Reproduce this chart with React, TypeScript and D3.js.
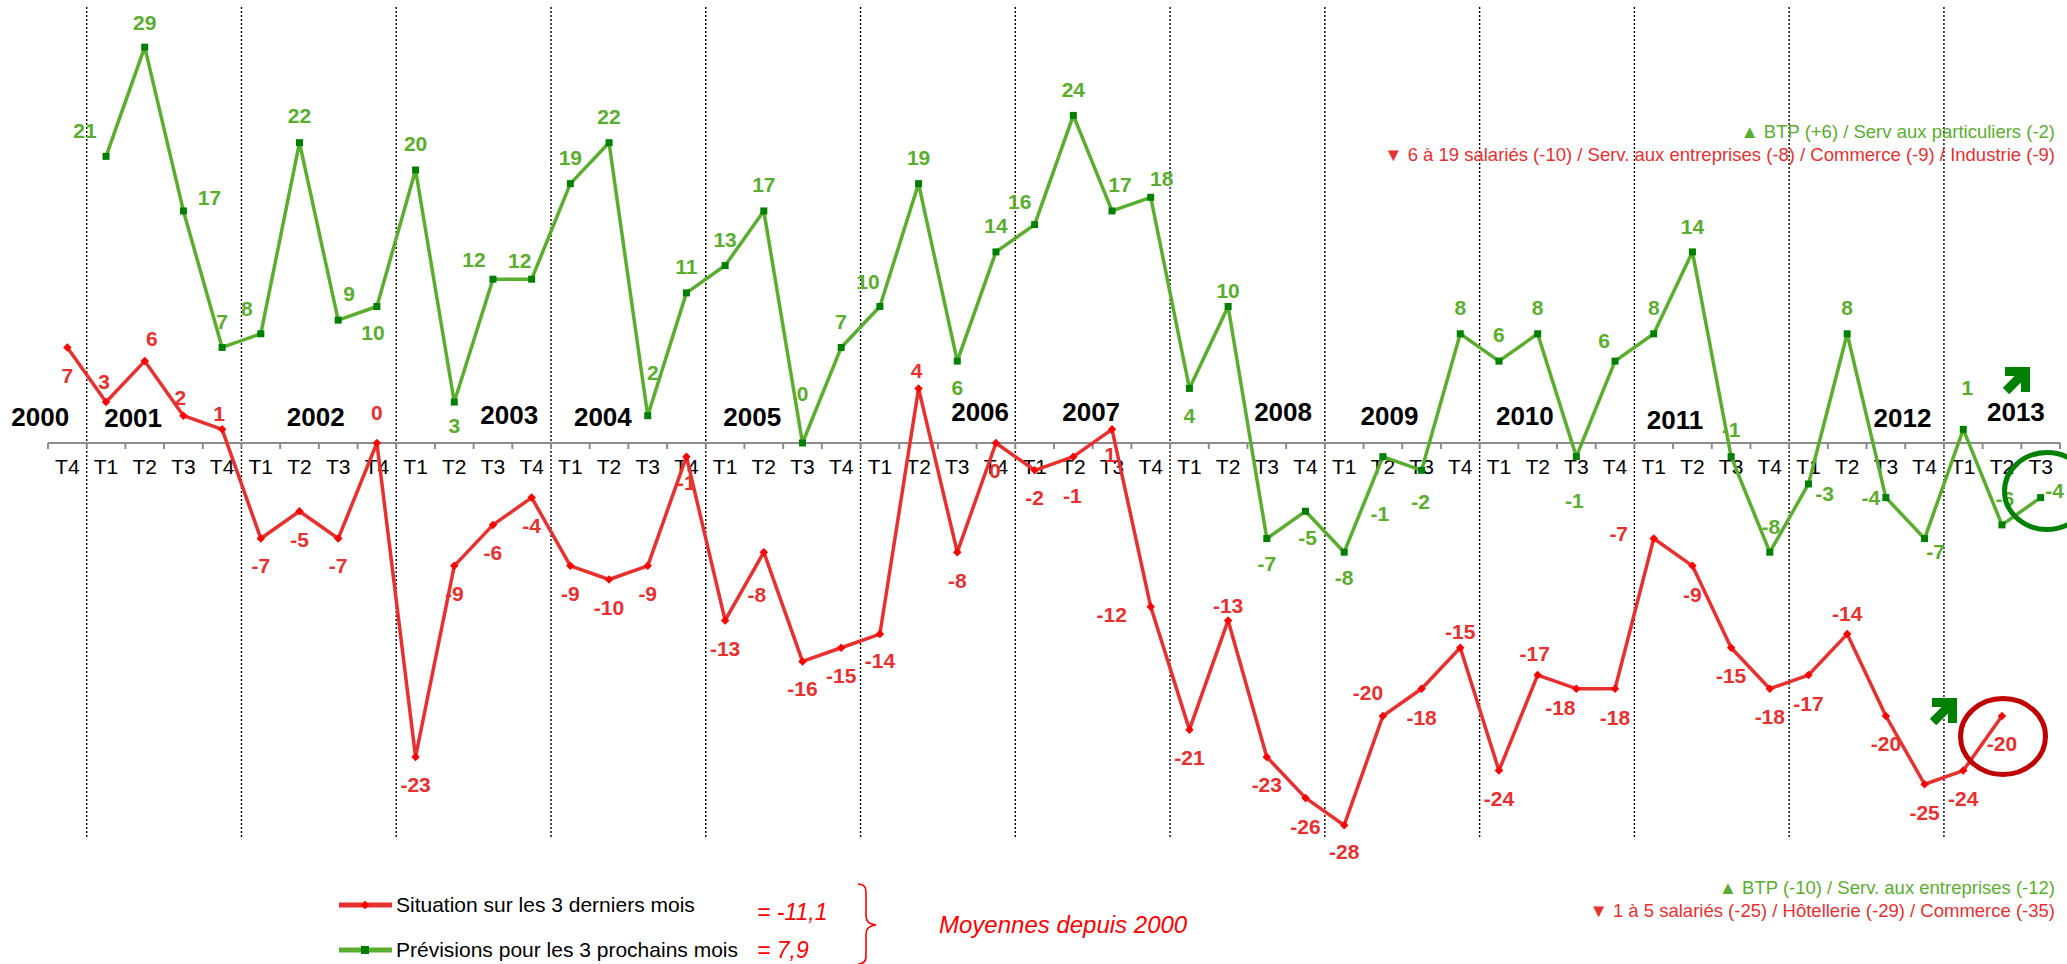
import React, { useEffect } from 'react';
import * as d3 from 'd3';

// ---------- DATA ----------
const categories = [
  '2000 T4',
  '2001 T1', '2001 T2', '2001 T3', '2001 T4',
  '2002 T1', '2002 T2', '2002 T3', '2002 T4',
  '2003 T1', '2003 T2', '2003 T3', '2003 T4',
  '2004 T1', '2004 T2', '2004 T3', '2004 T4',
  '2005 T1', '2005 T2', '2005 T3', '2005 T4',
  '2006 T1', '2006 T2', '2006 T3', '2006 T4',
  '2007 T1', '2007 T2', '2007 T3', '2007 T4',
  '2008 T1', '2008 T2', '2008 T3', '2008 T4',
  '2009 T1', '2009 T2', '2009 T3', '2009 T4',
  '2010 T1', '2010 T2', '2010 T3', '2010 T4',
  '2011 T1', '2011 T2', '2011 T3', '2011 T4',
  '2012 T1', '2012 T2', '2012 T3', '2012 T4',
  '2013 T1', '2013 T2', '2013 T3',
];
const quarterLabels = categories.map((c) => c.split(' ')[1]);

const situation: (number | null)[] = [
  7, 3, 6, 2, 1, -7, -5, -7, 0, -23, -9, -6, -4, -9, -10, -9, -1, -13, -8, -16, -15,
  -14, 4, -8, 0, -2, -1, 1, -12, -21, -13, -23, -26, -28, -20, -18, -15, -24, -17, -18,
  -18, -7, -9, -15, -18, -17, -14, -20, -25, -24, -20, null,
];
const previsions: (number | null)[] = [
  null, 21, 29, 17, 7, 8, 22, 9, 10, 20, 3, 12, 12, 19, 22, 2, 11, 13, 17, 0, 7,
  10, 19, 6, 14, 16, 24, 17, 18, 4, 10, -7, -5, -8, -1, -2, 8, 6, 8, -1, 6,
  8, 14, -1, -8, -3, 8, -4, -7, 1, -6, -4,
];

const yearLabels = ['2000', '2001', '2002', '2003', '2004', '2005', '2006', '2007', '2008', '2009', '2010', '2011', '2012', '2013'];

const seriesNames = ['Situation sur les 3 derniers mois', 'Prévisions pour les 3 prochains mois'];
const meanTexts = ['= -11,1', '= 7,9'];
const meanCaption = 'Moyennes depuis 2000';
const topNotes = ['▲ BTP (+6) / Serv aux particuliers (-2)', '▼ 6 à 19 salariés (-10) / Serv. aux entreprises (-8) / Commerce (-9) / Industrie (-9)'];
const bottomNotes = ['▲ BTP (-10) / Serv. aux entreprises (-12)', '▼ 1 à 5 salariés (-25) / Hôtellerie (-29) / Commerce (-35)'];

// ---------- LAYOUT (label placement, as placed in the original) ----------
const redLabelOffsets: [number, number][] = [
  [0, 28], [-2, -20], [7, -22], [-3, -18], [-3, -16], [0, 27], [0, 28], [0, 27], [0, -30],
  [0, 28], [0, 28], [0, 28], [0, 28], [0, 28], [0, 28], [0, 28], [0, 26], [0, 28], [-7, 42],
  [0, 27], [0, 28], [0, 27], [-2, -18], [0, 28], [-1, 28], [0, 27], [-1, 39], [-2, 25],
  [-39, 8], [0, 28], [0, -15], [0, 28], [0, 29], [0, 26], [-15, -23], [0, 29], [0, -16],
  [0, 28], [-3, -21], [-16, 19], [0, 29], [-35, -5], [0, 29], [0, 28], [0, 28], [0, 29],
  [0, -20], [0, 28], [0, 28], [0, 28], [0, 28], [0, 0],
];
const greenLabelOffsets: [number, number][] = [
  [0, 0], [-21, -26], [0, -25], [26, -13], [0, -26], [-14, -25], [0, -27], [11, -27], [-4, 26],
  [0, -26], [0, 24], [-19, -20], [-12, -19], [0, -26], [0, -26], [5, -43], [0, -26], [0, -26],
  [0, -26], [0, -49], [0, -26], [-12, -25], [0, -26], [0, 27], [0, -26], [-15, -23], [0, -26],
  [8, -26], [11, -19], [0, 27], [0, -16], [0, 25], [2, 26], [0, 25], [-3, 57], [-1, 31],
  [0, -26], [0, -26], [0, -26], [-2, 44], [-11, -20], [0, -26], [0, -25], [0, -27], [1, -26],
  [16, 10], [0, -26], [-15, 0], [11, 13], [4, -42], [3, -26], [14, -7],
];
// year labels: position in category units (0 = first category centre) and centre y
const yearSlots = [-0.7, 1.7, 6.42, 11.42, 13.84, 17.7, 23.59, 26.46, 31.42, 34.17, 37.67, 41.55, 47.43, 50.36];
const yearY = [417, 418, 417, 415, 417, 417, 412, 412, 412, 416, 416, 420, 418, 412];

const W = 2067;
const H = 964;
const FONT = '"Liberation Sans", Arial, Helvetica, sans-serif';
const RED_LINE = '#E8302F';
const RED_MARK = '#FF0000';
const RED_TXT = '#E8302F';
const GREEN_LINE = '#5AAE2E';
const GREEN_MARK = '#008000';
const GREEN_TXT = '#5AAE2E';

function Arrow({ x, y }: { x: number; y: number }) {
  // tip at (x, y), pointing up-right
  return (
    <g transform={`translate(${x},${y})`} fill="none" stroke={GREEN_MARK} strokeWidth={9} strokeLinejoin="miter">
      <path d="M-25,4.5 L-4.5,4.5 L-4.5,25" />
      <path d="M-4.5,4.5 L-24,24" />
    </g>
  );
}

export default function App() {
  useEffect(() => {
    document.body.style.margin = '0';
  }, []);

  const idx = categories.map((_, i) => i);
  const x = d3.scaleBand<number>().domain(idx).range([48, 2060]).padding(0);
  const bw = x.bandwidth();
  const cx = (i: number) => (x(i) as number) + bw / 2;
  const y = d3.scaleLinear().domain([-28, 29]).range([825.2, 47.15]);
  const y0 = y(0);

  const line = d3
    .line<number | null>()
    .defined((d) => d !== null)
    .x((_, i) => cx(i))
    .y((d) => y(d as number));

  const boundaries = d3.range(categories.length + 1).map((i) => 48 + i * bw);
  const yearBounds = idx.filter((i) => quarterLabels[i] === 'T1').map((i) => x(i) as number);

  return (
    <div style={{ position: 'absolute', left: 0, top: 0 }}>
      <svg width={W} height={H} style={{ display: 'block', fontFamily: FONT }}>
        <rect width={W} height={H} fill="#fff" />
        {/* year separators */}
        {yearBounds.map((bx, i) => (
          <line key={'d' + i} x1={bx} x2={bx} y1={7} y2={838} stroke="#000" strokeWidth={1.4} strokeDasharray="2,2" />
        ))}
        {/* axis */}
        <line x1={48} x2={2060} y1={y0} y2={y0} stroke="#8c8c8c" strokeWidth={2} />
        {boundaries.map((bx, i) => (
          <line key={'t' + i} x1={bx} x2={bx} y1={y0} y2={y0 + 6} stroke="#8c8c8c" strokeWidth={2} />
        ))}
        {quarterLabels.map((q, i) => (
          <text key={'q' + i} x={cx(i)} y={467} dy="0.35em" textAnchor="middle" fontSize={21} fill="#000">
            {q}
          </text>
        ))}
        {yearLabels.map((yl, i) => (
          <text key={'y' + i} x={cx(0) + yearSlots[i] * bw} y={yearY[i]} dy="0.35em" textAnchor="middle" fontSize={26} fontWeight="bold" fill="#000">
            {yl}
          </text>
        ))}

        {/* lines */}
        <path d={line(situation) || ''} fill="none" stroke={RED_LINE} strokeWidth={3.5} strokeLinejoin="round" />
        <path d={line(previsions) || ''} fill="none" stroke={GREEN_LINE} strokeWidth={3.5} strokeLinejoin="round" />

        {/* markers */}
        {situation.map((v, i) =>
          v === null ? null : (
            <rect key={'rm' + i} x={cx(i) - 3} y={y(v) - 3} width={6} height={6} fill={RED_MARK} transform={`rotate(45 ${cx(i)} ${y(v)})`} />
          )
        )}
        {previsions.map((v, i) =>
          v === null ? null : (
            <rect key={'gm' + i} x={cx(i) - 3.5} y={y(v) - 3.5} width={7} height={7} fill={GREEN_MARK} />
          )
        )}

        {/* data labels */}
        {situation.map((v, i) =>
          v === null ? null : (
            <text key={'rl' + i} x={cx(i) + redLabelOffsets[i][0]} y={y(v) + redLabelOffsets[i][1]} dy="0.35em" textAnchor="middle" fontSize={21} fontWeight="bold" fill={RED_TXT}>
              {v}
            </text>
          )
        )}
        {previsions.map((v, i) =>
          v === null ? null : (
            <text key={'gl' + i} x={cx(i) + greenLabelOffsets[i][0]} y={y(v) + greenLabelOffsets[i][1]} dy="0.35em" textAnchor="middle" fontSize={21} fontWeight="bold" fill={GREEN_TXT}>
              {v}
            </text>
          )
        )}

        {/* highlights */}
        <ellipse cx={2047} cy={491} rx={42.5} ry={38.5} fill="none" stroke={GREEN_MARK} strokeWidth={5} />
        <ellipse cx={2003} cy={736.5} rx={42.5} ry={38} fill="none" stroke="#C00000" strokeWidth={5} />
        <Arrow x={2030} y={367} />
        <Arrow x={1957} y={698} />

        {/* top-right notes */}
        <text x={2055} y={132} dy="0.35em" textAnchor="end" fontSize={18.5} fill={GREEN_TXT}>{topNotes[0]}</text>
        <text x={2055} y={155} dy="0.35em" textAnchor="end" fontSize={18.5} fill={RED_TXT}>{topNotes[1]}</text>

        {/* bottom-right notes */}
        <text x={2055} y={888} dy="0.35em" textAnchor="end" fontSize={18.5} fill={GREEN_TXT}>{bottomNotes[0]}</text>
        <text x={2055} y={911} dy="0.35em" textAnchor="end" fontSize={18.5} fill={RED_TXT}>{bottomNotes[1]}</text>

        {/* legend */}
        <line x1={339} x2={392} y1={905} y2={905} stroke={RED_LINE} strokeWidth={5} />
        <rect x={362} y={902} width={6} height={6} fill={RED_MARK} transform="rotate(45 365 905)" />
        <text x={396} y={905} dy="0.35em" fontSize={21} fill="#000">{seriesNames[0]}</text>
        <line x1={339} x2={392} y1={950} y2={950} stroke={GREEN_LINE} strokeWidth={5} />
        <rect x={361} y={946} width={8} height={8} fill={GREEN_MARK} />
        <text x={396} y={950} dy="0.35em" fontSize={21} fill="#000">{seriesNames[1]}</text>

        <text x={757} y={912} dy="0.35em" fontSize={23} fontStyle="italic" fill={RED_MARK}>{meanTexts[0]}</text>
        <text x={757} y={950} dy="0.35em" fontSize={23} fontStyle="italic" fill={RED_MARK}>{meanTexts[1]}</text>
        <path d="M858,884 Q866,884 866,892 L866,916 Q866,924 876,925 Q866,926 866,934 L866,956 Q866,964 858,964" fill="none" stroke={RED_MARK} strokeWidth={1.6} />
        <text x={939} y={925} dy="0.35em" fontSize={24} fontStyle="italic" fill={RED_MARK}>{meanCaption}</text>
      </svg>
    </div>
  );
}
